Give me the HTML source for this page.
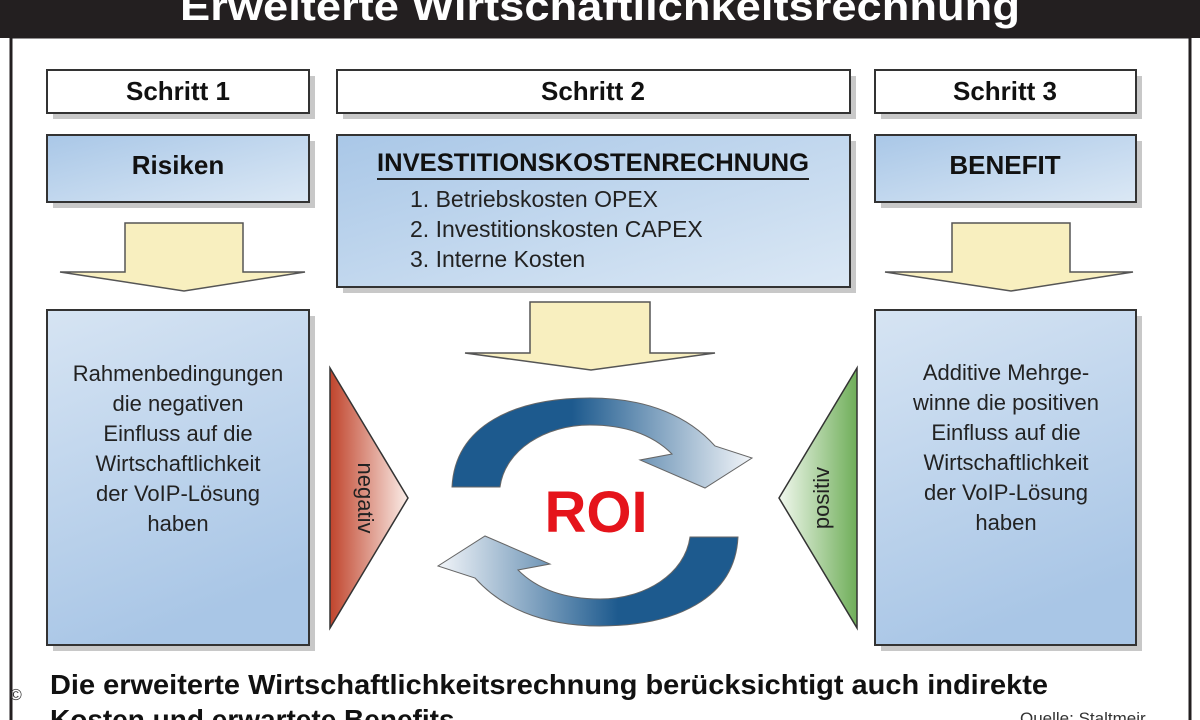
<!DOCTYPE html>
<html><head><meta charset="utf-8"><style>
html,body{margin:0;padding:0;background:#fff}
svg{display:block}
text{font-family:"Liberation Sans",sans-serif}
</style></head><body>
<svg width="1200" height="720" viewBox="0 0 1200 720" xmlns="http://www.w3.org/2000/svg">
<defs>
<linearGradient id="bl" x1="0" y1="0" x2="1" y2="1">
<stop offset="0" stop-color="#a9c7e7"/><stop offset="1" stop-color="#dbe8f5"/></linearGradient>
<linearGradient id="blv" x1="0" y1="0" x2="0.3" y2="1">
<stop offset="0" stop-color="#d6e4f3"/><stop offset="1" stop-color="#a9c6e6"/></linearGradient>
<linearGradient id="red" x1="0" y1="0" x2="1" y2="0">
<stop offset="0" stop-color="#c0442c"/><stop offset="1" stop-color="#fbeee9"/></linearGradient>
<linearGradient id="grn" x1="1" y1="0" x2="0" y2="0">
<stop offset="0" stop-color="#6fae59"/><stop offset="1" stop-color="#f1f8ee"/></linearGradient>
<linearGradient id="ta" x1="0" y1="0" x2="1" y2="0">
<stop offset="0.4" stop-color="#1d5a8e"/><stop offset="1" stop-color="#f2f5f9"/></linearGradient>
<linearGradient id="ba" x1="1" y1="0" x2="0" y2="0">
<stop offset="0.4" stop-color="#1d5a8e"/><stop offset="1" stop-color="#f2f5f9"/></linearGradient>
</defs>
<rect x="0" y="0" width="1200" height="720" fill="#fff"/>
<rect x="0" y="0" width="1200" height="38" fill="#231f20"/>
<text x="600" y="20" font-size="40" font-weight="bold" fill="#fff" text-anchor="middle" textLength="840" lengthAdjust="spacingAndGlyphs">Erweiterte Wirtschaftlichkeitsrechnung</text>
<rect x="11" y="37" width="1179" height="700" fill="none" stroke="#231f20" stroke-width="3"/>

<g fill="#c8c8c8">
<rect x="53" y="76" width="262" height="43"/><rect x="343" y="76" width="513" height="43"/><rect x="881" y="76" width="261" height="43"/>
<rect x="53" y="141" width="262" height="67"/><rect x="343" y="141" width="513" height="152"/><rect x="881" y="141" width="261" height="67"/>
<rect x="53" y="316" width="262" height="335"/><rect x="881" y="316" width="261" height="335"/>
</g>
<g stroke="#333" stroke-width="2">
<rect x="47" y="70" width="262" height="43" fill="#fff"/><rect x="337" y="70" width="513" height="43" fill="#fff"/><rect x="875" y="70" width="261" height="43" fill="#fff"/>
<rect x="47" y="135" width="262" height="67" fill="url(#bl)"/><rect x="337" y="135" width="513" height="152" fill="url(#bl)"/><rect x="875" y="135" width="261" height="67" fill="url(#bl)"/>
<rect x="47" y="310" width="262" height="335" fill="url(#blv)"/><rect x="875" y="310" width="261" height="335" fill="url(#blv)"/>
</g>
<g font-size="26" font-weight="bold" fill="#111" text-anchor="middle">
<text x="178" y="100">Schritt 1</text><text x="593" y="100">Schritt 2</text><text x="1005" y="100">Schritt 3</text>
<text x="178" y="174">Risiken</text><text x="1005" y="174">BENEFIT</text>
<text x="593" y="171" font-size="25" textLength="432" lengthAdjust="spacingAndGlyphs">INVESTITIONSKOSTENRECHNUNG</text>
</g>
<line x1="377" y1="179" x2="809" y2="179" stroke="#222" stroke-width="2"/>
<g font-size="23" fill="#222">
<text x="410" y="207">1.  Betriebskosten OPEX</text>
<text x="410" y="237">2.  Investitionskosten CAPEX</text>
<text x="410" y="267">3.  Interne Kosten</text>
</g>
<g font-size="22" fill="#222" text-anchor="middle">
<text x="178" y="381">Rahmenbedingungen</text><text x="178" y="411">die negativen</text><text x="178" y="441">Einfluss auf die</text><text x="178" y="471">Wirtschaftlichkeit</text><text x="178" y="501">der VoIP-Lösung</text><text x="178" y="531">haben</text>
<text x="1006" y="380">Additive Mehrge-</text><text x="1006" y="410">winne die positiven</text><text x="1006" y="440">Einfluss auf die</text><text x="1006" y="470">Wirtschaftlichkeit</text><text x="1006" y="500">der VoIP-Lösung</text><text x="1006" y="530">haben</text>
</g>
<g fill="#f8efbf" stroke="#555" stroke-width="1.5">
<path d="M125,223 H243 V272 H305 L184,291 L60,272 H125 Z"/>
<path d="M530,302 H650 V353 H715 L591,370 L465,353 H530 Z"/>
<path d="M952,223 H1070 V272 H1133 L1011,291 L885,272 H952 Z"/>
</g>
<path d="M330,368 L408,498 L330,628 Z" fill="url(#red)" stroke="#333" stroke-width="1.5"/>
<path d="M857,368 L779,498 L857,628 Z" fill="url(#grn)" stroke="#333" stroke-width="1.5"/>
<text transform="translate(358,498) rotate(90)" font-size="22" fill="#222" text-anchor="middle">negativ</text>
<text transform="translate(829,498) rotate(-90)" font-size="22" fill="#222" text-anchor="middle">positiv</text>
<path d="M452,487 C455,425 515,398 590,398 C650,398 690,418 715,446 L752,458 L705,488 L640,460 L672,454 C650,432 620,425 590,425 C545,425 505,450 500,487 Z" fill="url(#ta)" stroke="#666" stroke-width="1"/>
<path d="M738,537 C735,599 675,626 600,626 C540,626 500,606 475,578 L438,566 L485,536 L550,564 L518,570 C540,592 570,599 600,599 C645,599 685,574 690,537 Z" fill="url(#ba)" stroke="#666" stroke-width="1"/>
<text x="596" y="532" font-size="58" font-weight="bold" fill="#e5141b" text-anchor="middle">ROI</text>
<text x="50" y="694" font-size="28" font-weight="bold" fill="#111" textLength="998" lengthAdjust="spacingAndGlyphs">Die erweiterte Wirtschaftlichkeitsrechnung berücksichtigt auch indirekte</text>
<text x="50" y="729" font-size="28" font-weight="bold" fill="#111">Kosten und erwartete Benefits</text>
<text x="1020" y="724" font-size="17" fill="#333">Quelle: Staltmeir</text>
<text x="10" y="700" font-size="16" fill="#333">©</text>
</svg>
</body></html>
